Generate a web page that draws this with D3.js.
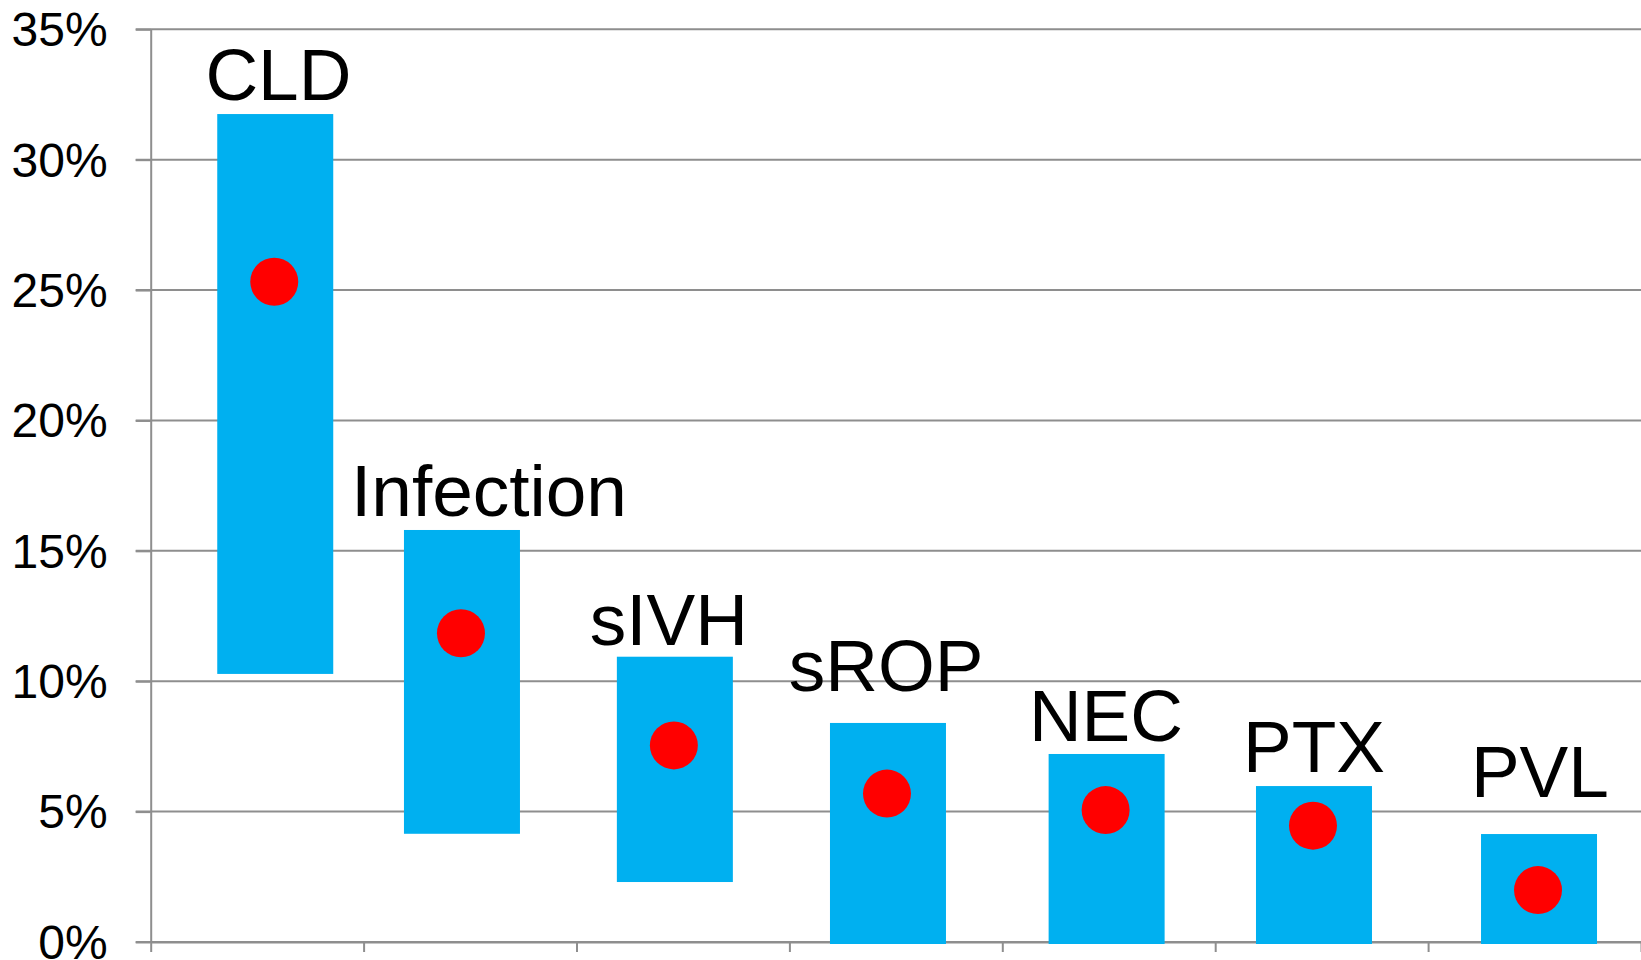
<!DOCTYPE html>
<html>
<head>
<meta charset="utf-8">
<script src="https://cdn.jsdelivr.net/npm/d3@7"></script>
<style>
  body { margin: 0; background: #fff; }
  text { font-family: "Liberation Sans", Arial, sans-serif; }
</style>
</head>
<body>
<svg id="chart" width="1641" height="960"></svg>
<script>
// data
var categories = ["CLD", "Infection", "sIVH", "sROP", "NEC", "PTX", "PVL"];
var lowValues = [0.1028, 0.0415, 0.0230, 0, 0, 0, 0];
var highValues = [0.3175, 0.1580, 0.1094, 0.0840, 0.0721, 0.0598, 0.0414];
var pointValues = [0.2532, 0.1184, 0.0754, 0.0569, 0.0506, 0.0446, 0.0199];
// horizontal place of each category on the 0..7 axis
var xPositions = [0.585, 1.462, 2.462, 3.463, 4.49, 5.464, 6.521];
// where the category names sit (x on the 0..7 axis, baseline in %)
var labelX = [0.60, 1.589, 2.434, 3.454, 4.487, 5.464, 6.525];
var labelValues = [0.3228, 0.1633, 0.1140, 0.0964, 0.0771, 0.0653, 0.0556];
var yTicks = [0, 0.05, 0.10, 0.15, 0.20, 0.25, 0.30, 0.35];
var xTicks = [0, 1, 2, 3, 4, 5, 6, 7];

var svg = d3.select("#chart");
// note: "top" is taken by window.top, so use other names
var plotLeft = 150.7, plotRight = 1641, plotTop = 29.3, plotBottom = 942;

var x = d3.scaleLinear().domain([0, 7]).range([plotLeft, plotRight]);
var y = d3.scaleLinear().domain([0, 0.35]).range([plotBottom, plotTop]);

var gridColor = "#8e8e8e";
var barWidth = 116;

// gridlines (they start a little left of the axis, like tick marks)
svg.append("g")
    .selectAll("line")
    .data(yTicks)
    .enter()
    .append("line")
    .attr("x1", plotLeft - 15)
    .attr("x2", plotRight)
    .attr("y1", function(d) { return y(d); })
    .attr("y2", function(d) { return y(d); })
    .attr("stroke", gridColor)
    .attr("stroke-width", 2);

// y axis
var yAxis = svg.append("g")
    .attr("transform", "translate(" + plotLeft + ",0)")
    .call(d3.axisLeft(y).tickValues(yTicks).tickFormat(d3.format(".0%"))
        .tickSizeInner(15).tickSizeOuter(0).tickPadding(28));
yAxis.select(".domain").attr("stroke", gridColor).attr("stroke-width", 2);
yAxis.selectAll(".tick line").attr("stroke", gridColor).attr("stroke-width", 2);
yAxis.selectAll(".tick text")
    .style("font-family", "'Liberation Sans', Arial, sans-serif")
    .style("font-size", "48px")
    .attr("fill", "#000")
    .attr("dy", "0.34em");

// x axis
var xAxis = svg.append("g")
    .attr("transform", "translate(0," + plotBottom + ")")
    .call(d3.axisBottom(x).tickValues(xTicks).tickFormat("").tickSizeInner(10).tickSizeOuter(0));
xAxis.select(".domain").attr("stroke", gridColor).attr("stroke-width", 2);
xAxis.selectAll(".tick line").attr("stroke", gridColor).attr("stroke-width", 2);

// range bars
svg.append("g")
    .selectAll("rect")
    .data(categories)
    .enter()
    .append("rect")
    .attr("x", function(d, i) { return x(xPositions[i]) - barWidth / 2; })
    .attr("y", function(d, i) { return y(highValues[i]); })
    .attr("width", barWidth)
    .attr("height", function(d, i) { return y(lowValues[i]) - y(highValues[i]) + (lowValues[i] === 0 ? 2 : 0); })
    .attr("fill", "#00b0f0");

// point estimates
svg.append("g")
    .selectAll("circle")
    .data(categories)
    .enter()
    .append("circle")
    .attr("cx", function(d, i) { return x(xPositions[i]) - 1; })
    .attr("cy", function(d, i) { return y(pointValues[i]); })
    .attr("r", 24)
    .attr("fill", "#ff0000");

// category names
svg.append("g")
    .selectAll("text")
    .data(categories)
    .enter()
    .append("text")
    .attr("x", function(d, i) { return x(labelX[i]); })
    .attr("y", function(d, i) { return y(labelValues[i]); })
    .attr("text-anchor", "middle")
    .style("font-size", "73px")
    .attr("fill", "#000")
    .text(function(d) { return d; });
</script>
</body>
</html>
